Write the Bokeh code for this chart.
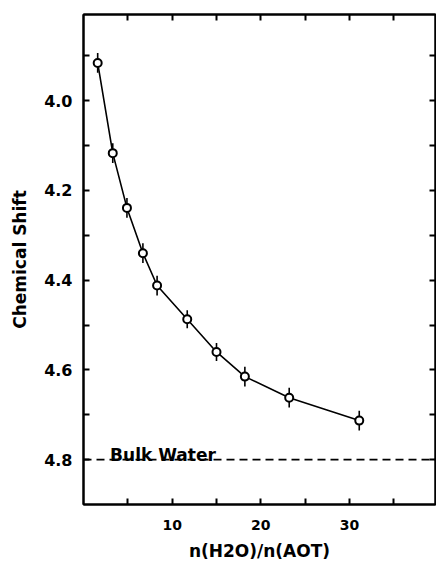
import math
from bokeh.plotting import figure
from bokeh.models import (Range1d, LinearAxis, FixedTicker, Label, ColumnDataSource, Span,
                          PrintfTickFormatter, CustomJSTickFormatter)
from bokeh.embed import file_html
from bokeh.resources import INLINE

# data
ratio = [1.6, 3.3, 4.9, 6.7, 8.3, 11.7, 15.0, 18.2, 23.2, 31.1]
shift = [3.916, 4.117, 4.239, 4.340, 4.412, 4.487, 4.560, 4.615, 4.662, 4.713]
err = [0.022, 0.022, 0.022, 0.022, 0.022, 0.020, 0.020, 0.022, 0.022, 0.022]
bulk_water = 4.8
y_major = [4.0, 4.2, 4.4, 4.6, 4.8]
y_minor = [3.9, 4.1, 4.3, 4.5, 4.7]
x_major = [10, 20, 30]
x_minor = [5, 15, 25, 35]

FONT = "DejaVu Sans"

src = ColumnDataSource(dict(
    x=ratio, y=shift,
    lo=[s - e for s, e in zip(shift, err)],
    hi=[s + e for s, e in zip(shift, err)],
))

p = figure(width=436, height=563, output_backend="svg", toolbar_location=None,
           x_range=Range1d(0, 39.7), y_range=Range1d(4.9, 3.808),
           min_border_left=83, min_border_right=1, min_border_top=14, min_border_bottom=59,
           x_axis_location=None, y_axis_location=None)
p.grid.visible = False
p.outline_line_color = "black"
p.outline_line_width = 2
p.background_fill_color = "white"
p.border_fill_color = "white"

def style_axis(ax, labels=True, size="15px"):
    ax.axis_line_color = "black"
    ax.axis_line_width = 2
    ax.major_tick_in = 6
    ax.major_tick_out = 0
    ax.minor_tick_in = 6
    ax.minor_tick_out = 0
    ax.major_tick_line_width = 2
    ax.minor_tick_line_width = 2
    ax.major_tick_line_color = "black"
    ax.minor_tick_line_color = "black"
    if labels:
        ax.major_label_text_font = FONT
        ax.major_label_text_font_style = "bold"
        ax.major_label_text_font_size = size
        ax.major_label_text_color = "black"
        ax.axis_label_text_font = FONT
        ax.axis_label_text_font_style = "bold"
        ax.axis_label_text_color = "black"
    else:
        ax.formatter = CustomJSTickFormatter(code="return ''")
        ax.major_label_text_color = None
        ax.major_label_standoff = 0

left = LinearAxis(ticker=FixedTicker(ticks=y_major, minor_ticks=y_minor),
                  formatter=PrintfTickFormatter(format="%.1f"))
style_axis(left, True, "16px")
left.major_label_standoff = 11
left.axis_label = "Chemical Shift"
left.axis_label_text_font_size = "17px"
left.axis_label_standoff = 11
p.add_layout(left, "left")

right = LinearAxis(ticker=FixedTicker(ticks=y_major + y_minor, minor_ticks=[]))
style_axis(right, False)
p.add_layout(right, "right")

bottom = LinearAxis(ticker=FixedTicker(ticks=x_major, minor_ticks=x_minor))
style_axis(bottom, True, "14px")
bottom.major_label_standoff = 15
bottom.axis_label = "n(H2O)/n(AOT)"
bottom.axis_label_text_font_size = "17px"
bottom.axis_label_standoff = 8
p.add_layout(bottom, "below")

top = LinearAxis(ticker=FixedTicker(ticks=x_major + x_minor, minor_ticks=[]))
style_axis(top, False)
p.add_layout(top, "above")

# bulk water reference
p.add_layout(Span(location=bulk_water, dimension="width", line_color="black",
                  line_width=1.6, line_dash="8 5"))
p.add_layout(Label(x=3.0, y=4.79, text="Bulk Water", text_font=FONT,
                   text_font_style="bold", text_font_size="17px",
                   text_color="black", text_baseline="alphabetic"))

# curve, error bars, markers
p.line("x", "y", source=src, line_color="black", line_width=1.6)
p.segment(x0="x", y0="lo", x1="x", y1="hi", source=src, line_color="black", line_width=1.6)
p.scatter("x", "y", source=src, size=8, marker="circle", fill_color="white",
          line_color="black", line_width=2)

open("out.html", "w").write(file_html(p, INLINE))
